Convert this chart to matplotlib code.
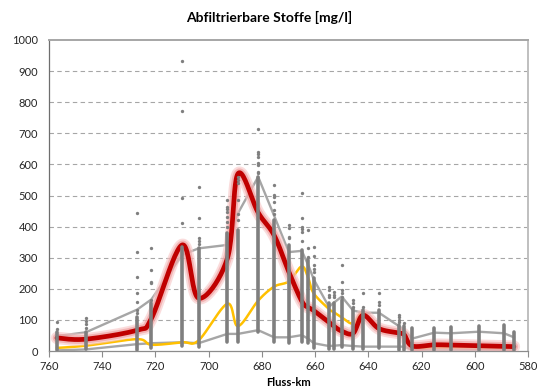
import numpy as np
import matplotlib
matplotlib.use("Agg")
import matplotlib.pyplot as plt

# ---------------- data ----------------
station_km = [757, 746.2, 726.9, 721.5, 710, 703.8, 693, 689, 681.4, 675.4,
              669.9, 665, 662.5, 660.5, 654.8, 653, 650, 645.7, 642, 636,
              628.5, 626.5, 623.5, 615.2, 609, 598.5, 589, 585.3]

# dense range of single measurements at each station (low, high)
dense_low = [3, 5, 3, 10, 15, 14, 30, 30, 62, 30,
             25, 30, 26, 9, 6, 6, 14, 6, 6, 9,
             3, 3, 3, 3, 3, 3, 3, 3]
dense_high = [62, 62, 110, 153, 335, 330, 380, 389, 560, 421,
              341, 325, 293, 234, 153, 155, 164, 135, 132, 132,
              84, 80, 73, 73, 76, 80, 84, 62]

# isolated single measurements
extra_values = [
    [94, 72],
    [105, 95, 87, 75],
    [443, 319, 239, 188, 159, 132, 122],
    [332, 260, 223, 220, 164],
    [932, 771, 491, 413],
    [526, 427, 363, 355, 345],
    [486, 463, 455, 447, 430, 415, 400],
    [560, 550, 539, 486, 440, 420],
    [713, 641, 633, 625, 604, 598, 577, 571],
    [534, 502, 496, 480, 453, 440],
    [405, 395, 367, 362],
    [507, 427, 400, 392, 384, 355],
    [389, 330, 303],
    [335, 305, 276, 265, 255],
    [207, 195, 180, 175],
    [191, 180, 175],
    [277, 223, 196, 185, 175],
    [164, 154, 142],
    [186, 142],
    [186, 159, 148],
    [116, 108, 100, 94],
    [89],
    [], [], [], [], [], [],
]

upper_gray = [48, 60, 133, 166, 309, 330, 341, 443, 560, 435,
              318, 322, 275, 230, 142, 155, 175, 130, 123, 123,
              80, 67, 40, 59, 57, 62, 57, 44]
lower_gray = [2, 5, 22, 25, 28, 25, 55, 55, 67, 44,
              44, 51, 39, 25, 16, 17, 19, 16, 14, 14,
              14, 14, 3, 2, 2, 2, 2, 2]
yellow_vals = [10, 17, 38, 20, 28, 34, 152, 80, 162, 207,
               224, 272, 232, 185, 135, 125, 108, 88, 122, 70,
               62, 56, 14, 12, 12, 12, 11, 11]
red_vals = [42, 38, 67, 105, 341, 170, 297, 570, 445, 372,
            255, 160, 140, 130, 92, 80, 64, 57, 115, 72,
            58, 52, 16, 20, 19, 17, 15, 14]

x_ticks = [760, 740, 720, 700, 680, 660, 640, 620, 600, 580]
y_ticks = [0, 100, 200, 300, 400, 500, 600, 700, 800, 900, 1000]

# ---------------- helpers ----------------
PX_PER_KM = 2.66
PX_PER_UNIT = 0.311


def smooth(xs, ys, n=24):
    """Excel-like smoothed line (cubic Bezier, Catmull-Rom control points) in screen space."""
    P = np.column_stack([np.asarray(xs, float) * -PX_PER_KM,
                         np.asarray(ys, float) * PX_PER_UNIT])
    out = [P[0]]
    t = np.linspace(0, 1, n)[1:, None]
    for i in range(len(P) - 1):
        p0 = P[i - 1] if i > 0 else P[i]
        p1, p2 = P[i], P[i + 1]
        p3 = P[i + 2] if i + 2 < len(P) else P[i + 1]
        c1 = p1 + (p2 - p0) / 6.0
        c2 = p2 - (p3 - p1) / 6.0
        seg = ((1 - t) ** 3) * p1 + 3 * ((1 - t) ** 2) * t * c1 + 3 * (1 - t) * t ** 2 * c2 + t ** 3 * p2
        out.extend(seg)
    out = np.array(out)
    return out[:, 0] / -PX_PER_KM, out[:, 1] / PX_PER_UNIT


# ---------------- figure ----------------
W, H = 539, 390
fig = plt.figure(figsize=(W / 100, H / 100), dpi=100)
ax = fig.add_axes([49 / W, 1 - 351 / H, (528 - 49) / W, (351 - 40) / H])

font = "Lato"
ax.set_xlim(760, 580)
ax.set_ylim(0, 1000)
ax.set_xticks(x_ticks)
ax.set_yticks(y_ticks)
ax.tick_params(axis="x", direction="out", length=4, width=0.8, color="#8C8C8C",
               labelsize=8, pad=3, labelcolor="#262626")
ax.tick_params(axis="y", length=0, labelsize=8, pad=8, labelcolor="#262626")
for lab in ax.get_xticklabels() + ax.get_yticklabels():
    lab.set_fontfamily(font)

for v in y_ticks[1:-1]:
    ax.axhline(v, color="#A6A6A6", lw=0.8, ls=(0, (4, 3)), zorder=0)

ax.spines["left"].set_color("#6E6E6E")
ax.spines["bottom"].set_color("#8C8C8C")
ax.spines["top"].set_color("#A6A6A6")
ax.spines["right"].set_color("#BFBFBF")
ax.spines["top"].set_linewidth(1.4)
ax.spines["right"].set_linewidth(1.4)
ax.spines["left"].set_linewidth(0.9)
ax.spines["bottom"].set_linewidth(0.9)

# grey envelope lines
ax.plot(station_km, upper_gray, color="#A6A6A6", lw=1.7, zorder=2, solid_joinstyle="round")
ax.plot(station_km, lower_gray, color="#A6A6A6", lw=1.7, zorder=2, solid_joinstyle="round")

# yellow smoothed line
yx, yy = smooth(station_km, yellow_vals)
ax.plot(yx, yy, color="#FFC000", lw=1.8, zorder=3)

# red smoothed line with glow
rx, ry = smooth(station_km, red_vals)
ax.plot(rx, ry, color="#F7C6C6", lw=9.0, alpha=0.6, zorder=4, solid_capstyle="round")
ax.plot(rx, ry, color="#EE9A9A", lw=6.2, alpha=0.6, zorder=4, solid_capstyle="round")
ax.plot(rx, ry, color="#C00000", lw=3.4, zorder=4, solid_capstyle="round")

# single measurements
dot_color = "#7F7F7F"
ax.vlines(station_km, dense_low, dense_high, color=dot_color, lw=2.6, zorder=5,
          capstyle="round")
ex_x, ex_y = [], []
for km, vals in zip(station_km, extra_values):
    ex_x.extend([km] * len(vals))
    ex_y.extend(vals)
ax.plot(ex_x, ex_y, ls="none", marker="o", ms=2.4, mfc=dot_color, mec=dot_color,
        mew=0, zorder=5, clip_on=False)

fig.text(0.5, 1 - 17 / H, "Abfiltrierbare Stoffe [mg/l]", ha="center", va="center",
         fontsize=10, fontweight="bold", family=font, color="#000000")
fig.text((49 + 528) / 2 / W, 1 - 382 / H, "Fluss-km", ha="center", va="center",
         fontsize=8, fontweight="bold", family=font, color="#000000")

fig.savefig("out.png", dpi=100)
